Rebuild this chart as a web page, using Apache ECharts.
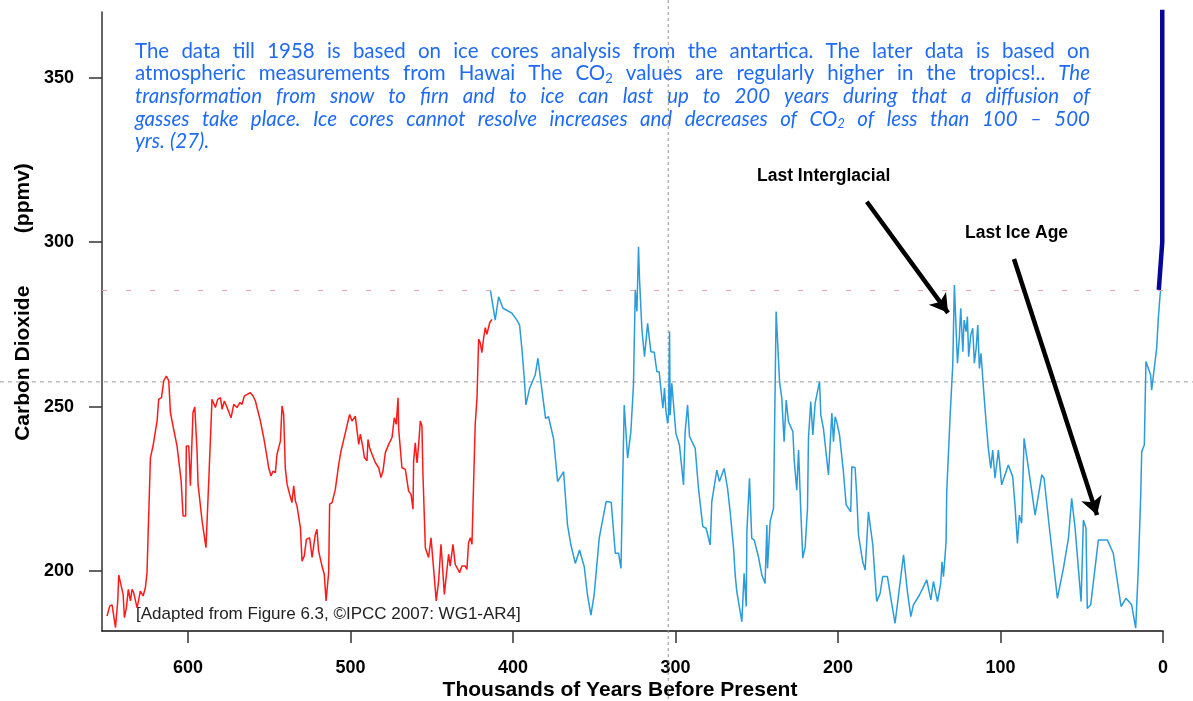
<!DOCTYPE html>
<html>
<head>
<meta charset="utf-8">
<script src="https://cdn.jsdelivr.net/npm/echarts@6/dist/echarts.min.js"></script>
<style>
  html, body { margin: 0; padding: 0; background: #fff; }
  #chart { width: 1193px; height: 701px; }
</style>
</head>
<body>
<div id="chart"></div>
<script>
// thousands of years before present / CO2 ppmv
const redKyr = [649.9,648.2,646.8,644.7,643.3,642.7,641.7,640.0,639.2,638.0,
  636.8,635.5,634.5,633.5,631.4,629.4,627.7,626.3,625.3,624.2,
  623.2,621.6,620.1,619.1,618.1,616.4,615.0,613.4,611.9,610.9,
  608.9,606.8,604.3,603.1,601.5,601.1,599.6,598.6,597.0,595.9,
  594.5,593.9,591.4,589.0,587.3,585.3,584.2,583.2,581.8,580.1,
  579.1,577.7,576.0,573.6,571.9,569.9,568.2,566.8,565.4,563.7,
  561.7,560.0,558.6,557.6,555.5,553.5,551.4,550.4,549.0,547.7,
  546.3,545.3,543.2,542.2,541.2,540.2,539.1,537.5,536.1,535.0,
  534.0,533.0,530.9,529.9,528.5,527.2,525.2,523.7,521.7,520.7,
  519.7,517.6,516.2,515.1,513.5,512.9,511.4,509.4,507.3,505.9,
  503.2,500.6,499.1,497.1,495.0,494.0,492.4,491.5,489.9,489.3,
  488.3,486.8,484.8,482.7,481.3,480.1,478.6,476.6,475.6,474.5,
  473.1,471.9,470.8,470.4,468.4,466.3,464.3,462.8,461.6,461.2,
  460.2,459.1,458.1,457.1,456.1,455.5,454.0,452.0,450.5,449.3,
  447.3,445.8,444.4,443.8,442.3,441.1,439.7,438.7,437.0,435.6,
  432.9,431.5,429.4,428.4,427.4,426.3,425.3,424.7,423.3,422.2,
  421.2,420.2,419.2,418.1,417.1,416.1,414.4,413.0];
const redPpm = [186.3,189.4,189.7,182.8,190.9,198.8,198.5,192.9,185.8,188.8,
  194.4,190.9,194.4,193.4,188.8,193.9,192.4,194.9,199.5,199.2,
  234.5,238.0,242.6,245.6,252.2,252.7,257.8,259.3,257.8,248.2,
  243.1,238.0,227.4,216.7,216.7,238.0,238.0,225.9,248.2,249.9,
  236.5,226.4,215.2,207.1,227.4,252.2,252.7,249.7,252.2,252.7,
  249.2,251.7,249.7,246.6,250.7,249.7,251.2,250.7,253.2,253.7,
  254.2,253.2,251.7,252.2,245.6,240.6,234.5,231.4,228.9,230.4,
  229.9,235.5,239.5,250.2,247.6,231.4,226.4,223.3,220.8,225.9,
  221.3,219.8,213.2,203.0,204.6,209.6,210.1,204.1,211.2,212.7,
  206.1,201.5,199.0,190.9,199.5,220.3,220.8,224.8,232.4,236.5,
  242.1,247.6,245.6,247.1,238.5,241.6,237.5,234.5,233.5,240.0,
  237.5,235.5,233.0,231.4,228.4,230.4,236.0,238.5,238.5,240.6,
  246.6,244.6,252.7,243.1,231.4,230.9,224.3,223.3,218.8,233.5,
  239.0,232.9,238.5,245.6,244.1,229.9,207.1,204.1,210.1,203.0,
  190.9,197.0,208.1,204.1,192.9,193.4,205.1,201.5,208.1,202.0,
  199.5,201.5,201.5,200.5,208.6,210.1,208.1,219.3,244.6,252.7,
  270.5,269.4,266.4,271.0,274.0,272.0,275.5,276.5];

const blueKyr = [414.0,411.0,408.9,406.2,400.7,397.6,396.0,394.6,393.1,392.1,
  389.8,386.4,384.7,382.9,380.0,378.2,375.1,372.6,368.9,366.5,
  364.4,361.7,359.1,356.2,354.2,352.1,350.1,347.0,344.7,342.7,
  339.6,337.1,335.1,333.6,331.6,329.5,327.5,325.9,324.8,323.8,
  322.8,322.2,320.7,319.7,319.1,317.2,315.2,313.1,311.5,310.1,
  307.8,306.8,306.0,304.9,304.3,303.7,303.3,302.3,301.2,299.8,
  297.6,295.1,294.1,292.6,291.4,287.9,285.9,283.2,281.2,278.7,
  277.7,274.6,273.0,270.1,268.0,266.4,264.3,263.3,262.3,261.3,
  259.2,257.8,256.5,256.1,254.5,253.1,251.6,249.0,246.9,244.9,
  243.8,243.4,241.8,239.7,238.1,236.0,234.6,233.2,231.9,230.5,
  227.8,227.0,225.4,224.3,222.9,221.7,220.2,218.8,218.2,216.8,
  215.5,214.1,212.7,211.4,210.6,209.0,205.9,203.8,202.8,201.8,
  200.8,199.1,
  196.7,195.0,192.2,191.5,189.5,188.5,187.4,184.8,183.3,181.3,
  178.6,177.8,176.2,174.1,172.5,169.6,167.5,164.9,159.7,157.3,
  155.2,153.6,149.9,145.4,142.9,141.3,138.8,136.8,136.0,135.1,
  133.5,133.1,131.0,129.4,128.4,127.3,126.5,125.3,124.5,123.2,
  122.4,121.2,120.4,119.6,118.3,117.1,116.1,115.0,114.0,113.0,
  112.0,110.5,108.9,107.5,106.0,104.8,103.4,101.3,99.3,95.2,
  92.5,91.1,89.6,88.4,87.0,85.5,84.3,82.8,78.7,74.6,
  73.2,69.9,65.0,61.3,58.2,56.2,54.1,50.4,49.0,47.4,
  46.6,44.5,39.8,34.2,30.6,25.8,22.8,19.3,16.8,15.2,
  13.7,13.1,11.5,10.5,7.6,7.0,3.9,2.9,1.8,1.4];
const bluePpm = [285.5,276.3,283.4,279.9,278.4,276.3,274.8,267.7,258.6,250.5,
  255.6,259.6,264.7,257.6,246.4,246.9,240.3,227.2,230.2,214.0,
  207.9,202.3,206.4,201.3,192.7,186.6,192.7,209.9,216.0,221.1,
  220.9,205.4,205.4,200.8,250.5,234.3,242.4,256.6,285.5,278.9,
  298.6,289.0,273.3,272.8,265.2,275.3,266.7,266.5,260.6,260.6,
  249.5,255.6,249.0,244.9,247.4,272.8,247.4,257.1,256.6,241.9,
  238.3,226.2,242.4,250.5,240.9,237.3,225.1,213.5,213.0,207.9,
  221.1,230.7,227.2,231.2,225.1,218.0,206.9,198.8,193.7,194.2,
  184.6,199.3,189.2,212.0,228.2,209.9,209.4,204.4,198.8,196.2,
  214.0,200.8,215.0,219.1,278.9,257.6,252.5,239.3,252.0,245.4,
  242.4,233.8,224.6,236.8,218.0,203.9,207.4,219.1,240.3,251.5,
  241.4,251.0,254.5,257.6,247.4,243.4,229.2,248.0,239.3,246.9,
  245.4,241.4,
  230.2,220.1,218.0,231.7,231.4,223.1,210.9,202.8,200.3,218.0,
  207.9,201.8,190.7,193.2,198.3,198.3,191.7,184.1,204.9,193.7,
  186.1,189.7,192.7,197.3,191.2,196.8,190.7,196.2,202.8,198.3,
  208.9,224.1,247.4,262.7,287.0,286.5,263.2,271.3,279.9,266.7,
  276.3,272.8,277.4,265.2,271.8,273.8,263.2,267.7,274.8,261.6,
  266.2,255.6,245.4,237.3,231.2,236.8,228.2,236.8,226.2,232.2,
  228.7,220.1,208.4,217.0,214.5,240.3,240.9,231.2,217.0,229.2,
  228.2,213.0,191.7,200.8,209.9,222.1,213.0,190.7,215.5,213.0,
  188.6,189.7,209.4,209.4,205.4,189.2,191.7,189.7,182.6,200.8,
  223.1,236.3,238.3,263.7,259.6,255.0,267.7,276.8,283.9,285.5];

// instrumental record (Mauna Loa)
const navyKyr = [2.6, 0.45, 0.45];
const navyPpm = [285.5, 300, 395];

const xTicks = [0, 100, 200, 300, 400, 500, 600];
const yTicks = [200, 250, 300, 350];
const preIndustrial = 285.5;
const crossKyr = 304.5, crossPpm = 257.5;

// arrows: [fromKyr, fromPpm, toKyr, toPpm]
const arrows = [
  [182.3, 312.3, 132.3, 278.5],
  [91.7, 294.9, 40.6, 217.0]
];

const noteLines = [
  [['The data till 1958 is based on ice cores analysis from the antartica. The later data is based on', false]],
  [['atmospheric measurements from Hawai The CO_2 values are regularly higher in the tropics!..', false], ['The', true]],
  [['transformation from snow to firn and to ice can last up to 200 years during that a diffusion of', true]],
  [['gasses take place. Ice cores cannot resolve increases and decreases of CO_2 of less than 100 \u2013 500', true]],
  [['yrs. (27).', true]]
];

function zip(xs, ys) {
  const out = [];
  for (let i = 0; i < Math.min(xs.length, ys.length); i++) out.push([xs[i], ys[i]]);
  return out;
}

const chart = echarts.init(document.getElementById('chart'));
const labelFont = '"Liberation Sans", Arial, sans-serif';

chart.setOption({
  animation: false,
  backgroundColor: '#fff',
  grid: { left: 102, right: 30, top: 12, bottom: 70, outerBoundsMode: 'none' },
  xAxis: {
    type: 'value', inverse: true, min: 0, max: 653, position: 'bottom',
    axisLine: { show: true, onZero: false, lineStyle: { color: '#111', width: 1.5 } },
    axisTick: { show: true, length: 12, customValues: xTicks, lineStyle: { color: '#333', width: 1.5 } },
    axisLabel: { customValues: xTicks, margin: 28, color: '#000', fontWeight: 'bold', fontSize: 18, fontFamily: labelFont },
    splitLine: { show: false }
  },
  yAxis: {
    type: 'value', min: 181.75, max: 370, position: 'left',
    axisLine: { show: true, onZero: false, lineStyle: { color: '#333', width: 1.5 } },
    axisTick: { show: true, length: 13, customValues: yTicks, lineStyle: { color: '#333', width: 1.5 } },
    axisLabel: { customValues: yTicks, margin: 28, color: '#000', fontWeight: 'bold', fontSize: 18, fontFamily: labelFont },
    splitLine: { show: false }
  },
  series: [
    {
      name: 'EPICA', type: 'line', data: zip(redKyr, redPpm), showSymbol: false, clip: true,
      lineStyle: { color: '#ff1a1a', width: 1.5 },
      markLine: {
        silent: true, symbol: ['none', 'none'], label: { show: false },
        lineStyle: { color: '#e9a3aa', type: [5, 19], width: 1.2 },
        data: [{ yAxis: preIndustrial }]
      }
    },
    {
      name: 'Vostok', type: 'line', data: zip(blueKyr, bluePpm), showSymbol: false, clip: true,
      lineStyle: { color: '#2a9cd9', width: 1.5 },
      markLine: {
        silent: true, symbol: ['none', 'arrow'], symbolSize: [16, 18], label: { show: false },
        lineStyle: { color: '#000', type: 'solid', width: 4.5 },
        data: arrows.map(a => [{ coord: [a[0], a[1]] }, { coord: [a[2], a[3]] }])
      }
    },
    {
      name: 'Mauna Loa', type: 'line', data: zip(navyKyr, navyPpm), showSymbol: false, clip: true,
      lineStyle: { color: '#06069a', width: 4.5 }
    }
  ]
});

// justified note text
const measureCtx = document.createElement('canvas').getContext('2d');
const noteSize = 20.5;
const subSize = 13;
const noteFamily = 'Lato, "Open Sans", sans-serif';
function noteFont(italic, size) { return (italic ? 'italic ' : '') + size + 'px ' + noteFamily; }
function wordParts(w) {
  const i = w.indexOf('_');
  if (i < 0) return [{ t: w, sub: false }];
  return [{ t: w.slice(0, i), sub: false }, { t: w.slice(i + 1), sub: true }];
}
function partWidth(p, italic) {
  measureCtx.font = noteFont(italic, p.sub ? subSize : noteSize);
  return measureCtx.measureText(p.t).width;
}

const graphics = [];
const noteLeft = 135, noteRight = 1090, noteTop = 51, noteStep = 22.7;
noteLines.forEach((segs, li) => {
  const words = [];
  segs.forEach(([txt, it]) => txt.split(' ').forEach(w => words.push({ w, it })));
  words.forEach(o => {
    o.parts = wordParts(o.w);
    o.width = o.parts.reduce((s, p) => s + partWidth(p, o.it), 0);
  });
  const total = words.reduce((s, o) => s + o.width, 0);
  const justify = li < noteLines.length - 1;
  measureCtx.font = noteFont(false, noteSize);
  const gap = justify ? (noteRight - noteLeft - total) / (words.length - 1) : measureCtx.measureText(' ').width;
  let x = noteLeft;
  const y = noteTop + li * noteStep;
  words.forEach(o => {
    let px = x;
    o.parts.forEach(p => {
      graphics.push({
        type: 'text', x: px, y: y + (p.sub ? 5 : 0), silent: true,
        style: { text: p.t, font: noteFont(o.it, p.sub ? subSize : noteSize), fill: '#1f6bf5', align: 'left', verticalAlign: 'middle' }
      });
      px += partWidth(p, o.it);
    });
    x += o.width + gap;
  });
});

// dashed cross lines through a reference point
const cp = chart.convertToPixel({ gridIndex: 0 }, [crossKyr, crossPpm]);
graphics.push(
  { type: 'line', silent: true, z: 1, shape: { x1: 0, y1: cp[1], x2: 1193, y2: cp[1] },
    style: { stroke: '#a0a0a0', lineWidth: 1, lineDash: [4, 4] } },
  { type: 'line', silent: true, z: 1, shape: { x1: cp[0], y1: 0, x2: cp[0], y2: 701 },
    style: { stroke: '#909090', lineWidth: 1, lineDash: [3, 3] } }
);

graphics.push(
  { type: 'text', x: 757, y: 176, silent: true,
    style: { text: 'Last Interglacial', font: 'bold 17.5px ' + labelFont, fill: '#000', align: 'left', verticalAlign: 'middle' } },
  { type: 'text', x: 965, y: 233, silent: true,
    style: { text: 'Last Ice Age', font: 'bold 17.5px ' + labelFont, fill: '#000', align: 'left', verticalAlign: 'middle' } },
  { type: 'text', x: 136, y: 614, silent: true,
    style: { text: '[Adapted from Figure 6.3, \u00A9IPCC 2007: WG1-AR4]', font: '17px ' + labelFont, fill: '#222', align: 'left', verticalAlign: 'middle' } },
  { type: 'text', x: 23, y: 302, rotation: Math.PI / 2, silent: true,
    style: { text: 'Carbon Dioxide         (ppmv)', font: 'bold 21px ' + labelFont, fill: '#000', align: 'center', verticalAlign: 'middle' } },
  { type: 'text', x: 620, y: 690, silent: true,
    style: { text: 'Thousands of Years Before Present', font: 'bold 21px ' + labelFont, fill: '#000', align: 'center', verticalAlign: 'middle' } }
);

chart.setOption({ graphic: graphics });
</script>
</body>
</html>
